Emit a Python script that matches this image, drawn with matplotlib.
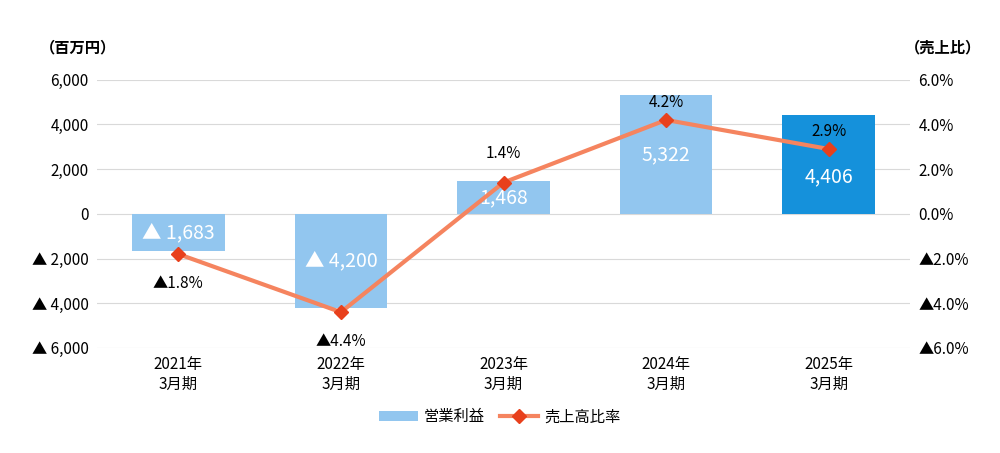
import matplotlib.pyplot as plt
import numpy as np

plt.rcParams['font.family'] = ['Noto Sans CJK JP']

categories = ['2021年\n3月期', '2022年\n3月期', '2023年\n3月期', '2024年\n3月期', '2025年\n3月期']
profit = [-1683, -4200, 1468, 5322, 4406]
ratio = [-1.8, -4.4, 1.4, 4.2, 2.9]
left_ticks = [6000, 4000, 2000, 0, -2000, -4000, -6000]
left_labels = ['6,000', '4,000', '2,000', '0', '▲ 2,000', '▲ 4,000', '▲ 6,000']
right_ticks = [6, 4, 2, 0, -2, -4, -6]
right_labels = ['6.0%', '4.0%', '2.0%', '0.0%', '▲2.0%', '▲4.0%', '▲6.0%']

light = '#92C6EF'
dark = '#1591DB'
line_c = '#F5845F'
mark_c = '#E8401C'

fig = plt.figure(figsize=(10, 4.53), dpi=100)
ax = fig.add_axes([0.097, 0.232, 0.813, 0.592])
x = np.arange(len(categories))
colors = [light] * 4 + [dark]
ax.bar(x, profit, width=0.57, color=colors, zorder=2, label='営業利益')
ax.set_ylim(-6000, 6000)
ax.set_xlim(-0.5, 4.5)
ax.set_yticks(left_ticks)
ax.set_yticklabels(left_labels, fontsize=11)
ax.set_xticks(x)
ax.set_xticklabels(categories, fontsize=11)
ax.grid(axis='y', color='#D9D9D9', lw=0.8, zorder=0)
for s in ['top', 'left', 'right']:
    ax.spines[s].set_visible(False)
ax.spines['bottom'].set_visible(False)
ax.tick_params(length=0, pad=6)

for i, v in enumerate(profit):
    txt = f'{abs(v):,}' if v > 0 else f'▲ {abs(v):,}'
    yy = v / 2 if v > 0 else v / 2
    if i == 2:
        yy = 700
    if i == 4:
        yy = 1650
    ax.text(i, yy, txt, color='white', ha='center', va='center', fontsize=14, zorder=5)

ax2 = ax.twinx()
ax2.plot(x, ratio, color=line_c, lw=3, marker='D', markersize=7,
         markerfacecolor=mark_c, markeredgecolor=mark_c, zorder=4, label='売上高比率')
ax2.set_ylim(-6, 6)
ax2.set_yticks(right_ticks)
ax2.set_yticklabels(right_labels, fontsize=11)
for s in ['top', 'left', 'right', 'bottom']:
    ax2.spines[s].set_visible(False)
ax2.tick_params(length=0, pad=6)
for i, v in enumerate(ratio):
    txt = f'{v:.1f}%' if v > 0 else f'▲{abs(v):.1f}%'
    off = -1.3 if v < 0 else 1.3
    if i == 3:
        off = 0.8
    if i == 4:
        off = 0.8
    ax2.text(i, v + off, txt, ha='center', va='center', fontsize=11, zorder=6)

fig.text(0.04, 0.885, '（百万円）', fontsize=11, fontweight='bold')
fig.text(0.905, 0.885, '（売上比）', fontsize=11, fontweight='bold')

h1, l1 = ax.get_legend_handles_labels()
h2, l2 = ax2.get_legend_handles_labels()
fig.legend(h1 + h2, l1 + l2, loc='center', bbox_to_anchor=(0.5, 0.08), ncol=2,
           frameon=False, fontsize=11, handlelength=2.5, columnspacing=1.0, handletextpad=0.4)

fig.savefig('out.png')
